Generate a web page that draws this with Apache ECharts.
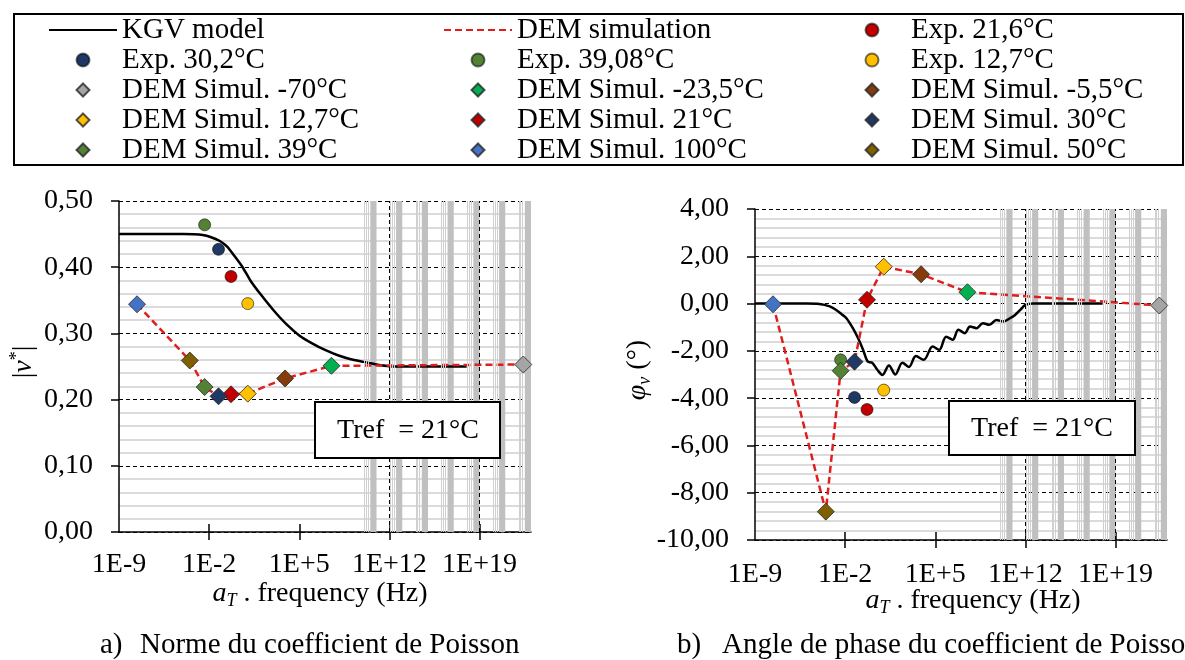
<!DOCTYPE html>
<html><head><meta charset="utf-8">
<script src="https://cdn.jsdelivr.net/npm/echarts@6/dist/echarts.min.js"></script>
<style>html,body{margin:0;padding:0;background:#fff}#c{width:1185px;height:660px}</style>
</head><body><div id="c"></div>
<script>
// ---------- DATA (x values are log10 of aT·frequency in Hz) ----------
const xTickValues = [-9, -2, 5, 12, 19];

const expNames   = ['Exp. 21,6°C', 'Exp. 30,2°C', 'Exp. 39,08°C', 'Exp. 12,7°C'];
const expLogFreq = [-0.3, -1.27, -2.35, 1.0];
const expNorm    = [0.386, 0.427, 0.464, 0.345];
const expPhase   = [-4.48, -3.97, -2.38, -3.66];

const demNames   = ['DEM Simul. -70°C', 'DEM Simul. -23,5°C', 'DEM Simul. -5,5°C', 'DEM Simul. 12,7°C',
                    'DEM Simul. 21°C', 'DEM Simul. 30°C', 'DEM Simul. 39°C', 'DEM Simul. 100°C', 'DEM Simul. 50°C'];
const demLogFreq = [22.4, 7.5, 3.9, 1.0, -0.3, -1.27, -2.35, -7.6, -3.5];
const demNorm    = [0.253, 0.251, 0.232, 0.209, 0.208, 0.205, 0.219, 0.344, 0.259];
const demPhase   = [-0.08, 0.48, 1.24, 1.56, 0.16, -2.46, -2.84, -0.03, -8.80];

const kgvNormLogFreq = [-9, -4, -3.2, -2.5, -1.9, -1.2, -0.6, 0, 0.6, 1.2, 2, 3, 4, 5, 6, 7, 8, 9, 10, 11, 12, 14, 16, 18];
const kgvNorm        = [0.45, 0.45, 0.4497, 0.4485, 0.4457, 0.440, 0.431, 0.416, 0.400, 0.380, 0.359, 0.335, 0.314, 0.297, 0.285, 0.275, 0.267, 0.261, 0.257, 0.253, 0.2505, 0.25, 0.25, 0.25];

const kgvPhaseLogFreq = [-9, -5, -4, -3.2, -2.7, -2.2, -1.9, -1.4, -1.0, -0.6, -0.25, 0.1, 0.5, 0.9, 1.4, 1.9, 2.45, 2.95, 3.5, 4.1, 4.8, 5.3, 5.85, 6.35, 6.8, 7.3, 7.7, 8.2, 8.7, 9.2, 9.75, 10.25, 10.8, 11.2, 11.6, 12.0, 12.6, 18];
const kgvPhase        = [0, 0, -0.02, -0.12, -0.27, -0.48, -0.62, -1.04, -1.46, -1.96, -2.45, -2.5, -2.8, -3.02, -2.62, -3.0, -2.5, -2.68, -2.22, -2.38, -1.82, -1.96, -1.4, -1.53, -1.11, -1.25, -0.97, -1.04, -0.83, -0.90, -0.69, -0.76, -0.62, -0.48, -0.27, -0.06, 0, 0];

// ---------- STYLE ----------
const FONT = '"Liberation Serif","Times New Roman",serif';
const COLORS = {
  'Exp. 21,6°C': '#C00000', 'Exp. 30,2°C': '#203864', 'Exp. 39,08°C': '#548235', 'Exp. 12,7°C': '#FFC000',
  'DEM Simul. -70°C': '#A5A5A5', 'DEM Simul. -23,5°C': '#00B050', 'DEM Simul. -5,5°C': '#843C0C',
  'DEM Simul. 12,7°C': '#FFC000', 'DEM Simul. 21°C': '#C00000', 'DEM Simul. 30°C': '#203864',
  'DEM Simul. 39°C': '#548235', 'DEM Simul. 100°C': '#4472C4', 'DEM Simul. 50°C': '#7F6000'
};
// diamond icon padded with zero-length segments so it keeps its shape in a 68x13 legend box
const LEGEND_DIAMOND = 'path://M-34,0L-34,0M34,0L34,0M0,-6.5L6.5,0L0,6.5L-6.5,0Z';
const grids = [
  { left: 119, top: 201, width: 412, height: 331 },
  { left: 755, top: 209, width: 412, height: 331 }
];
const labelMargins = [19, 21];
const bandEnds = [11, 13, 15, 17, 19, 21, 23];
const majorVLines = [12, 19];

const fmtExp = v => '1E' + (v >= 0 ? '+' : '') + v;
const fmtComma = v => v.toFixed(2).replace('.', ',');

const xAxes = [], yAxes = [], series = [];
grids.forEach((g, gi) => {
  xAxes.push({
    type: 'value', gridIndex: gi, min: -9, max: 23, interval: 7, position: 'bottom',
    axisLine: { show: true, onZero: false, lineStyle: { color: '#000', width: 1.5 } },
    axisTick: { show: true, length: 8, inside: false, customValues: xTickValues.slice(1), lineStyle: { color: '#000', width: 1.5 } },
    axisLabel: { customValues: xTickValues, formatter: fmtExp, margin: labelMargins[gi],
                 fontFamily: FONT, fontSize: 28, color: '#000' },
    splitLine: { show: false }
  });
  xAxes.push({
    type: 'value', gridIndex: gi, min: -9, max: 23, interval: 7, position: 'top', offset: -g.height,
    axisLine: { show: false },
    axisTick: { show: true, length: 8, inside: false, customValues: xTickValues.slice(1), lineStyle: { color: '#000', width: 1.5 } },
    axisLabel: { show: false },
    splitLine: { show: false }
  });
  yAxes.push({
    type: 'value', gridIndex: gi,
    min: gi === 0 ? 0 : -10, max: gi === 0 ? 0.5 : 4, interval: gi === 0 ? 0.1 : 2,
    axisLine: { show: true, onZero: false, lineStyle: { color: '#000', width: 1.5 } },
    axisTick: { show: true, length: 8, inside: false, lineStyle: { color: '#000', width: 1.5 } },
    axisLabel: { formatter: fmtComma, margin: 26, fontFamily: FONT, fontSize: 28, color: '#000' },
    splitLine: { show: true, lineStyle: { color: '#000', width: 1, type: [4, 3] } },
    minorTick: { show: false, splitNumber: 5 },
    minorSplitLine: { show: true, lineStyle: { color: '#CFCFCF', width: 1.5 } }
  });

  const xi = gi * 2;
  const thin = [];
  bandEnds.forEach(e => [0.95, 0.8, 0.65].forEach(d => thin.push({ xAxis: e - d })));
  series.push({
    type: 'line', xAxisIndex: xi, yAxisIndex: gi, data: [], z: -1, silent: true, animation: false,
    markArea: { silent: true, itemStyle: { color: '#C0C0C0' },
      data: bandEnds.map(e => [{ xAxis: e - 0.48 }, { xAxis: e }]) },
    markLine: { silent: true, symbol: ['none', 'none'], label: { show: false },
      lineStyle: { color: '#D0D0D0', width: 1, type: 'solid' }, data: thin }
  });
  series.push({
    type: 'line', xAxisIndex: xi, yAxisIndex: gi, data: [], z: 1, silent: true, animation: false,
    markLine: { silent: true, symbol: ['none', 'none'], label: { show: false },
      lineStyle: { color: '#000', width: 1, type: [4, 3] }, data: majorVLines.map(v => ({ xAxis: v })) }
  });

  const kx = gi === 0 ? kgvNormLogFreq : kgvPhaseLogFreq;
  const ky = gi === 0 ? kgvNorm : kgvPhase;
  series.push({
    name: 'KGV model', type: 'line', xAxisIndex: xi, yAxisIndex: gi,
    data: kx.map((x, i) => [x, ky[i]]), symbol: 'none', smooth: gi === 0 ? 0.2 : 0.35,
    lineStyle: { color: '#000', width: 2.5 }, itemStyle: { color: '#000' }, z: 3, animation: false
  });

  const dy = gi === 0 ? demNorm : demPhase;
  const order = demLogFreq.map((x, i) => i).sort((a, b) => demLogFreq[a] - demLogFreq[b]);
  series.push({
    name: 'DEM simulation', type: 'line', xAxisIndex: xi, yAxisIndex: gi,
    data: order.map(i => [demLogFreq[i], dy[i]]), symbol: 'none',
    lineStyle: { color: '#E01E1E', width: 2.5, type: [7, 4] }, itemStyle: { color: '#E01E1E' }, z: 4, animation: false
  });

  const ey = gi === 0 ? expNorm : expPhase;
  expNames.forEach((n, i) => series.push({
    name: n, type: 'scatter', xAxisIndex: xi, yAxisIndex: gi, data: [[expLogFreq[i], ey[i]]],
    symbol: 'circle', symbolSize: 12,
    itemStyle: { color: COLORS[n], borderColor: 'rgba(0,0,0,0.55)', borderWidth: 1, opacity: 1 }, z: 5, animation: false
  }));
  demNames.forEach((n, i) => series.push({
    name: n, type: 'scatter', xAxisIndex: xi, yAxisIndex: gi, data: [[demLogFreq[i], dy[i]]],
    symbol: 'diamond', symbolSize: 17,
    itemStyle: { color: COLORS[n], borderColor: 'rgba(40,40,40,0.8)', borderWidth: 1, opacity: 1 }, z: 6, animation: false
  }));
});

const legendCols = [
  { left: 48,  data: ['KGV model', 'Exp. 30,2°C', 'DEM Simul. -70°C', 'DEM Simul. 12,7°C', 'DEM Simul. 39°C'] },
  { left: 443, data: ['DEM simulation', 'Exp. 39,08°C', 'DEM Simul. -23,5°C', 'DEM Simul. 21°C', 'DEM Simul. 100°C'] },
  { left: 837, data: ['Exp. 21,6°C', 'Exp. 12,7°C', 'DEM Simul. -5,5°C', 'DEM Simul. 30°C', 'DEM Simul. 50°C'] }
];
const legendItem = n => {
  if (n === 'KGV model' || n === 'DEM simulation') return { name: n, itemStyle: { opacity: 0 } };
  if (n.indexOf('DEM Simul.') === 0) return { name: n, icon: LEGEND_DIAMOND };
  return { name: n, icon: 'circle' };
};
const legends = legendCols.map(c => ({
  orient: 'vertical', left: c.left, top: 15, padding: 0, itemGap: 0, itemWidth: 68, itemHeight: 13,
  symbolKeepAspect: false, selectedMode: false, data: c.data.map(legendItem),
  textStyle: { fontFamily: FONT, fontSize: 29, lineHeight: 30, color: '#000' }
}));

const txt = (x, y, text, extra) => ({
  type: 'text', x, y, z: 50,
  style: Object.assign({ text, font: '28px ' + FONT, fill: '#000', align: 'center', verticalAlign: 'middle' }, extra || {})
});

const richAxis = {
  i: { fontFamily: FONT, fontSize: 28, fontStyle: 'italic', color: '#000' },
  sub: { fontFamily: FONT, fontSize: 18, fontStyle: 'italic', color: '#000', padding: [14, 0, 0, 0] },
  sup: { fontFamily: FONT, fontSize: 18, color: '#000', padding: [0, 0, 14, 0] },
  n: { fontFamily: FONT, fontSize: 28, color: '#000' }
};

const graphic = [
  { type: 'rect', shape: { x: 14, y: 14, width: 1169, height: 151 }, style: { fill: 'none', stroke: '#000', lineWidth: 2 }, z: 0 },
  { type: 'rect', shape: { x: 315, y: 402, width: 185, height: 56 }, style: { fill: '#fff', stroke: '#000', lineWidth: 2 }, z: 40 },
  txt(408, 431, 'Tref  = 21°C'),
  { type: 'rect', shape: { x: 949, y: 401, width: 186, height: 54 }, style: { fill: '#fff', stroke: '#000', lineWidth: 2 }, z: 40 },
  txt(1042, 429, 'Tref  = 21°C'),
  { type: 'text', x: 320, y: 594, z: 50, style: { text: '{i|a}{sub|T}{n| . frequency (Hz)}', rich: richAxis, align: 'center', verticalAlign: 'middle' } },
  { type: 'text', x: 973, y: 601, z: 50, style: { text: '{i|a}{sub|T}{n| . frequency (Hz)}', rich: richAxis, align: 'center', verticalAlign: 'middle' } },
  { type: 'text', x: 24, y: 362, rotation: Math.PI / 2, z: 50, style: { text: '{n||}{i|ν}{sup|*}{n||}', rich: richAxis, align: 'center', verticalAlign: 'middle' } },
  { type: 'text', x: 638, y: 370, rotation: Math.PI / 2, z: 50, style: { text: '{i|φ}{sub|ν}{n| (°)}', rich: richAxis, align: 'center', verticalAlign: 'middle' } },
  txt(100, 645, 'a)', { align: 'left', font: '29px ' + FONT }),
  txt(140, 645, 'Norme du coefficient de Poisson', { align: 'left', font: '29px ' + FONT }),
  txt(677, 645, 'b)', { align: 'left', font: '29px ' + FONT }),
  txt(722, 645, 'Angle de phase du coefficient de Poisson', { align: 'left', font: '29px ' + FONT })
];

const chart = echarts.init(document.getElementById('c'));
chart.setOption({
  backgroundColor: '#fff',
  animation: false,
  textStyle: { fontFamily: FONT },
  grid: grids.map(g => Object.assign({ containLabel: false }, g)),
  xAxis: xAxes,
  yAxis: yAxes,
  legend: legends,
  series: series,
  graphic: graphic
});
</script></body></html>
